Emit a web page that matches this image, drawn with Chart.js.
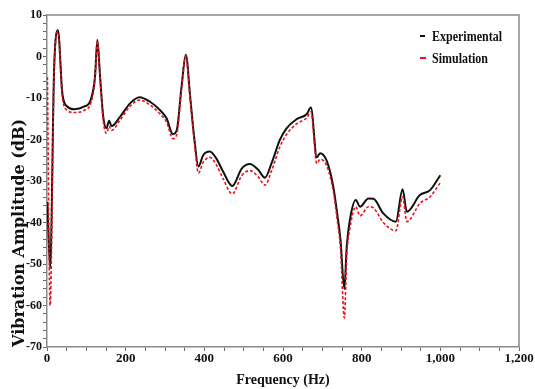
<!DOCTYPE html>
<html><head><meta charset="utf-8">
<script src="https://cdn.jsdelivr.net/npm/chart.js@4"></script>
<style>
html,body{margin:0;padding:0;background:#fff;}
#wrap{position:relative;width:535px;height:389px;}
#legend{position:absolute;left:418px;top:25px;font-family:"Liberation Serif",serif;font-weight:bold;font-size:15px;color:#111;}
.item{position:relative;height:22px;line-height:22px;white-space:nowrap;}
.sym{position:absolute;left:2px;top:10px;width:5px;height:0;}
.txt{position:absolute;left:14px;top:0;transform:scaleX(0.8);transform-origin:left center;}
</style>
</head><body>
<div id="wrap">
<canvas id="c" width="535" height="389"></canvas>
<div id="legend">
  <div class="item"><span class="sym" style="border-top:2px solid #111;"></span><span class="txt">Experimental</span></div>
  <div class="item"><span class="sym" style="border-top:2px dashed #e8141b;width:6px;"></span><span class="txt">Simulation</span></div>
</div>
</div>
<script>
const freq = [1, 8, 18, 28, 39, 52, 69, 94, 111, 122, 128, 135, 143, 151, 158, 164, 186, 211, 235, 262, 287, 304, 320, 330, 342, 353, 364, 374, 385, 397, 414, 430, 448, 471, 495, 516, 537, 554, 571, 592, 609, 635, 660, 671, 686, 694, 711, 728, 738, 746, 756, 762, 770, 785, 796, 817, 830, 855, 887, 904, 915, 948, 974, 1000];
const experimental = [-35, -51, -3.3, 6.3, -8.9, -12.1, -12.7, -12.1, -10.5, -4.9, 4, -4.9, -14.5, -17.3, -15.5, -16.8, -14.5, -11.3, -9.8, -10.9, -12.9, -14.9, -18.7, -17.7, -7.3, 0.4, -9.7, -19.3, -26.5, -23.8, -22.9, -24.5, -27.8, -31.2, -27, -25.9, -27.3, -29.2, -25.7, -20.1, -17.3, -15.1, -13.9, -12.3, -24.3, -23.3, -25.1, -31.4, -38, -44, -56, -45.8, -39.4, -34.6, -36.2, -34.2, -34.3, -37.8, -39.8, -32, -37.4, -33.4, -32.2, -28.6];
const simulation = [-5, -60, -4, 6, -9.8, -13, -13.5, -13, -11.3, -5.5, 3.8, -5.5, -15.5, -18.5, -16.8, -17.8, -15.3, -12, -10.5, -11.7, -13.8, -15.8, -19.8, -18.8, -8, 0.2, -10.3, -20, -28.1, -25.5, -24.3, -26, -29.5, -33.1, -28.7, -27.5, -29, -31, -27.5, -21.8, -18.8, -16.2, -14.8, -13.3, -25.8, -24.8, -26.3, -32.5, -39.5, -46, -63, -48, -41.5, -36.2, -38.4, -36.2, -36.5, -40, -42, -33.8, -39.8, -35.4, -33.8, -30.4];
const seriesNames = ["Experimental", "Simulation"];
const xTitle = "Frequency (Hz)";
const yTitle = "Vibration Amplitude (dB)";
const xMin = 0, xMax = 1200, xLabelStep = 200, xMinorStep = 50;
const yMin = -70, yMax = 10, yLabelStep = 10, yMinorStep = 2;

const tickFont = {family: '"Liberation Serif", serif', weight: 'bold', size: 13};
const xTitleFont = {family: '"Liberation Serif", serif', weight: 'bold', size: 14};
const yTickFont = {family: '"Liberation Serif", serif', weight: 'bold', size: 12};
const axisGrey = '#8a8a8a';

const framePlugin = {
  id: 'frame',
  afterDraw(chart) {
    const {ctx, chartArea: a} = chart;
    ctx.save();
    ctx.strokeStyle = axisGrey;
    ctx.lineWidth = 1.5;
    ctx.beginPath();
    ctx.moveTo(a.left, a.top);
    ctx.lineTo(a.right, a.top);
    ctx.lineTo(a.right, a.bottom);
    ctx.stroke();
    ctx.restore();
  }
};

new Chart(document.getElementById('c'), {
  type: 'line',
  data: {
    datasets: [
      {
        label: seriesNames[0],
        data: freq.map((f, i) => ({x: f, y: experimental[i]})),
        borderColor: '#111111',
        borderWidth: 2,
        pointRadius: 0,
        cubicInterpolationMode: 'monotone',
        fill: false,
        order: 1
      },
      {
        label: seriesNames[1],
        data: freq.map((f, i) => ({x: f, y: simulation[i]})),
        borderColor: '#e8141b',
        borderWidth: 1.6,
        borderDash: [3, 2],
        pointRadius: 0,
        cubicInterpolationMode: 'monotone',
        fill: false,
        order: 0
      }
    ]
  },
  options: {
    responsive: false,
    animation: false,
    devicePixelRatio: 1,
    layout: {padding: {top: 15, right: 16, bottom: 0, left: 0}},
    plugins: {
      legend: {display: false},
      tooltip: {enabled: false}
    },
    scales: {
      x: {
        type: 'linear',
        min: xMin, max: xMax,
        border: {display: true, color: axisGrey, width: 1.5},
        grid: {drawOnChartArea: false, drawTicks: true, tickLength: 4, color: '#666'},
        ticks: {
          stepSize: xMinorStep, autoSkip: false, maxRotation: 0, padding: 0,
          color: '#111', font: tickFont,
          callback: v => (v % xLabelStep === 0 ? v.toLocaleString('en-US') : '')
        },
        title: {display: true, text: xTitle, color: '#111', font: xTitleFont, padding: {top: 0, bottom: 0}},
        afterFit(s) { s.height = 42; }
      },
      y: {
        type: 'linear',
        min: yMin, max: yMax,
        border: {display: true, color: axisGrey, width: 1.5},
        grid: {drawOnChartArea: false, drawTicks: true, tickLength: 4, color: '#666'},
        ticks: {
          stepSize: yMinorStep, autoSkip: false, padding: 1,
          color: '#111', font: yTickFont,
          callback: v => (v % yLabelStep === 0 ? String(v) : '')
        },
        title: {display: true, text: yTitle, color: '#111', align: 'start',
          font: {family: '"DejaVu Serif", serif', weight: 'bold', size: 16},
          padding: {top: 10, bottom: 0}},
        afterFit(s) { s.width = 47; }
      }
    }
  },
  plugins: [framePlugin]
});
</script>
</body></html>
